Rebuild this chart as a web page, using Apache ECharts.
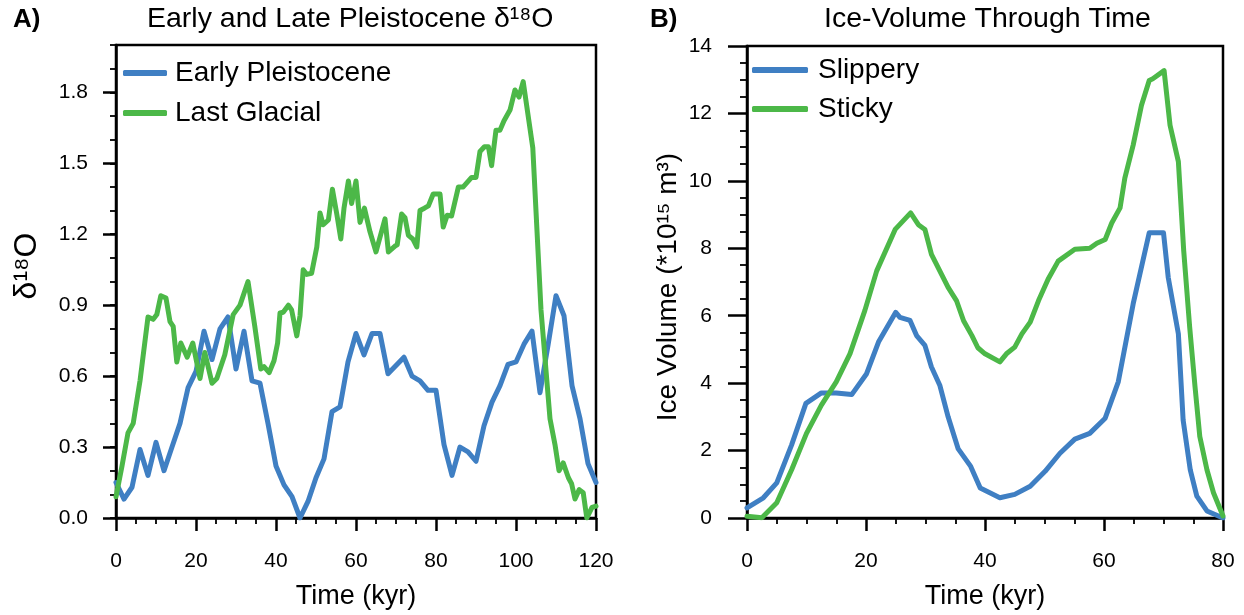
<!DOCTYPE html>
<html>
<head>
<meta charset="utf-8">
<script src="https://cdn.jsdelivr.net/npm/echarts@6/dist/echarts.min.js"></script>
<style>html,body{margin:0;padding:0;background:#fff}#c{width:1244px;height:615px}</style>
</head>
<body>
<div id="c"></div>
<script>
// Panel A: Early Pleistocene (time kyr, d18O)
const earlyT = [0,2,4,6,8,10,12,14,16,18,20,22,24,26,28,30,32,34,36,38,40,42,44,46,48,50,52,54,56,58,60,62,64,66,68,70,72,74,76,78,80,82,84,86,88,90,92,94,96,98,100,102,104,106,108,110,112,114,116,118,120];
const earlyV = [0.15,0.08,0.13,0.29,0.18,0.32,0.20,0.30,0.40,0.55,0.62,0.79,0.67,0.80,0.85,0.63,0.79,0.58,0.57,0.40,0.22,0.14,0.09,0.00,0.07,0.17,0.25,0.45,0.47,0.66,0.78,0.69,0.78,0.78,0.61,0.645,0.68,0.60,0.58,0.54,0.54,0.31,0.18,0.30,0.28,0.24,0.39,0.49,0.56,0.65,0.66,0.735,0.79,0.53,0.73,0.94,0.855,0.56,0.42,0.23,0.15];
// Panel A: Last Glacial
const lateT = [0,1.5,3,4.3,6,8,9.3,10.2,11.2,12.5,13.5,14.3,15.2,16.2,17.8,19.2,21,22.2,24,25.2,27.2,29.3,31,33,34.7,36.2,37,38.3,39.5,40.4,41,41.8,43.1,43.9,45.2,46,46.8,47.7,48.9,50.2,51,51.8,53.1,54.1,55.2,56.2,57,58.1,58.9,60,61,62.1,63.5,65,67.25,68.1,69.75,70.3,71.4,72.25,73.1,74.2,75.2,76,77.1,78.1,79.3,81,81.8,82.8,83.9,85.6,86.8,88.9,90,91,92.1,93.1,93.9,95,96,97,98.5,99.75,100.75,101.8,104.2,106.25,108.5,109.75,110.75,111.8,113.1,113.9,114.75,115.8,116.8,117.7,119,120];
const lateV = [0.09,0.22,0.36,0.40,0.58,0.85,0.84,0.86,0.94,0.93,0.83,0.81,0.66,0.74,0.68,0.74,0.59,0.70,0.57,0.59,0.69,0.86,0.90,1.00,0.81,0.63,0.64,0.615,0.665,0.74,0.867,0.87,0.90,0.88,0.77,0.855,1.05,1.03,1.035,1.146,1.29,1.24,1.26,1.39,1.285,1.18,1.31,1.425,1.33,1.425,1.25,1.31,1.21,1.125,1.265,1.125,1.15,1.155,1.285,1.27,1.195,1.18,1.146,1.30,1.31,1.32,1.37,1.37,1.23,1.28,1.277,1.40,1.40,1.44,1.44,1.55,1.57,1.57,1.49,1.64,1.64,1.68,1.725,1.81,1.78,1.845,1.565,0.88,0.42,0.31,0.20,0.233,0.17,0.145,0.08,0.12,0.107,0.0,0.045,0.05];
// Panel B: Slippery ice volume
const slipT = [0,2.75,5,7.5,9.9,12.5,15,17.6,20.1,22.1,25,25.7,27.4,28.5,29.9,31,32.4,33.8,35.5,37.6,39.2,42.5,45,47.6,50.1,52.6,55.1,57.6,60.2,62.4,64.9,67.6,70,70.8,72.5,73.3,74.5,75.6,77.3,80];
const slipV = [0.30,0.60,1.04,2.17,3.40,3.71,3.71,3.66,4.28,5.22,6.10,5.95,5.86,5.41,5.12,4.48,3.94,3.0,2.05,1.53,0.89,0.60,0.70,0.94,1.385,1.92,2.34,2.51,2.96,4.04,6.35,8.46,8.46,7.13,5.46,2.9,1.43,0.65,0.21,0];
// Panel B: Sticky ice volume
const stickT = [0,2.5,5,7.5,10,12.5,15,17.3,19.8,21.8,24.9,27.5,28.8,29.9,31,32.4,33.8,35.2,36.4,37.8,38.8,40,42.5,43.6,45,46.2,47.6,49,50.6,52.3,55.1,57.6,58.8,60.2,61.3,62.7,63.5,64.9,66.3,67.6,68.2,70.1,71.1,72.5,73.4,74.4,75.3,76.1,77.3,78.4,80];
const stickV = [0.05,0.01,0.45,1.43,2.51,3.35,4.04,4.87,6.15,7.33,8.56,9.05,8.70,8.56,7.82,7.33,6.84,6.45,5.85,5.41,5.05,4.87,4.63,4.87,5.07,5.46,5.81,6.45,7.08,7.62,7.97,8.0,8.15,8.26,8.75,9.2,10.08,11.06,12.24,12.98,13.03,13.27,11.65,10.57,7.92,5.66,3.89,2.42,1.43,0.75,0.06];

const BLUE = '#3F7FC3', GREEN = '#4CB848';
const FONT = '"Liberation Sans", Arial, sans-serif';
const zip = (t, v) => t.map((x, i) => [x, v[i]]);

const chart = echarts.init(document.getElementById('c'), null, {renderer: 'canvas'});

const axisLineStyle = {show: true, lineStyle: {color: '#000', width: 2.5}};
const majorTick = {show: true, length: 13, lineStyle: {color: '#000', width: 2.5}};
const minorTickStyle = {show: true, length: 6, lineStyle: {color: '#000', width: 1.8}};
const tickLabel = {color: '#000', fontSize: 21, fontFamily: FONT};

function lineSeries(name, data, color, xi, yi) {
  return {
    type: 'line', name, data, xAxisIndex: xi, yAxisIndex: yi,
    showSymbol: false, symbol: 'none', smooth: false, animation: false,
    lineStyle: {color, width: 5, join: 'round', cap: 'round'},
    itemStyle: {color}
  };
}

const option = {
  animation: false,
  textStyle: {fontFamily: FONT},
  title: [
    {text: 'A)', left: 8, top: 2, textStyle: {fontSize: 26, fontWeight: 'bold', color: '#000', fontFamily: FONT}},
    {text: 'Early and Late Pleistocene δ¹⁸O', left: 142, top: 0, textStyle: {fontSize: 28.5, fontWeight: 'normal', color: '#000', fontFamily: FONT}},
    {text: 'B)', left: 645, top: 2, textStyle: {fontSize: 26, fontWeight: 'bold', color: '#000', fontFamily: FONT}},
    {text: 'Ice-Volume Through Time', left: 819, top: 0, textStyle: {fontSize: 28.5, fontWeight: 'normal', color: '#000', fontFamily: FONT}}
  ],
  legend: [
    {data: ['Early Pleistocene', 'Last Glacial'], orient: 'vertical', left: 118, top: 54, itemGap: 12,
     icon: 'roundRect', itemWidth: 44, itemHeight: 6,
     textStyle: {fontSize: 28, color: '#000', fontFamily: FONT, padding: [0, 0, 0, 3]}},
    {data: ['Slippery', 'Sticky'], orient: 'vertical', left: 747, top: 51, itemGap: 11,
     icon: 'roundRect', itemWidth: 56, itemHeight: 6,
     textStyle: {fontSize: 28, color: '#000', fontFamily: FONT, padding: [0, 0, 0, 5]}}
  ],
  grid: [
    {left: 116, top: 45, width: 480, height: 479, show: true, borderColor: '#000', borderWidth: 2.5, backgroundColor: 'transparent'},
    {left: 747, top: 46, width: 476, height: 476, show: true, borderColor: '#000', borderWidth: 2.5, backgroundColor: 'transparent'}
  ],
  graphic: [
    {type: 'text', x: 27, y: 266, rotation: Math.PI / 2, silent: true,
     style: {text: 'δ¹⁸O', fontSize: 32, fontFamily: FONT, fill: '#000', align: 'center', verticalAlign: 'middle'}},
    {type: 'text', x: 668, y: 287, rotation: Math.PI / 2, silent: true,
     style: {text: 'Ice Volume (*10¹⁵ m³)', fontSize: 28, fontFamily: FONT, fill: '#000', align: 'center', verticalAlign: 'middle'}}
  ],
  xAxis: [
    {type: 'value', gridIndex: 0, min: 0, max: 120, interval: 20,
     axisLine: axisLineStyle, axisTick: majorTick,
     minorTick: Object.assign({splitNumber: 4}, minorTickStyle),
     splitLine: {show: false}, minorSplitLine: {show: false},
     axisLabel: Object.assign({margin: 33}, tickLabel),
     name: 'Time (kyr)', nameLocation: 'middle', nameGap: 65,
     nameTextStyle: {fontSize: 27, color: '#000', fontFamily: FONT}},
    {type: 'value', gridIndex: 1, min: 0, max: 80, interval: 20,
     axisLine: axisLineStyle, axisTick: majorTick,
     minorTick: Object.assign({splitNumber: 4}, minorTickStyle),
     splitLine: {show: false}, minorSplitLine: {show: false},
     axisLabel: Object.assign({margin: 33}, tickLabel),
     name: 'Time (kyr)', nameLocation: 'middle', nameGap: 65,
     nameTextStyle: {fontSize: 27, color: '#000', fontFamily: FONT}}
  ],
  yAxis: [
    {type: 'value', gridIndex: 0, min: 0, max: 2.0, interval: 0.3,
     axisLine: axisLineStyle, axisTick: majorTick,
     splitLine: {show: false},
     axisLabel: Object.assign({margin: 28, showMaxLabel: false, formatter: v => (Math.abs(v - 2.0) < 1e-6 ? '' : v.toFixed(1))}, tickLabel)},
    {type: 'value', gridIndex: 0, min: 0, max: 2.0, interval: 0.1, position: 'left',
     axisLine: {show: false}, axisTick: minorTickStyle, axisLabel: {show: false}, splitLine: {show: false}},
    {type: 'value', gridIndex: 1, min: 0, max: 14, interval: 2,
     axisLine: axisLineStyle, axisTick: Object.assign({}, majorTick, {length: 19}),
     minorTick: Object.assign({splitNumber: 4}, minorTickStyle, {length: 7}),
     splitLine: {show: false}, minorSplitLine: {show: false},
     axisLabel: Object.assign({margin: 35}, tickLabel)}
  ],
  series: [
    lineSeries('Early Pleistocene', zip(earlyT, earlyV), BLUE, 0, 0),
    lineSeries('Last Glacial', zip(lateT, lateV), GREEN, 0, 0),
    lineSeries('Slippery', zip(slipT, slipV), BLUE, 1, 2),
    lineSeries('Sticky', zip(stickT, stickV), GREEN, 1, 2)
  ]
};
chart.setOption(option);
</script>
</body>
</html>
